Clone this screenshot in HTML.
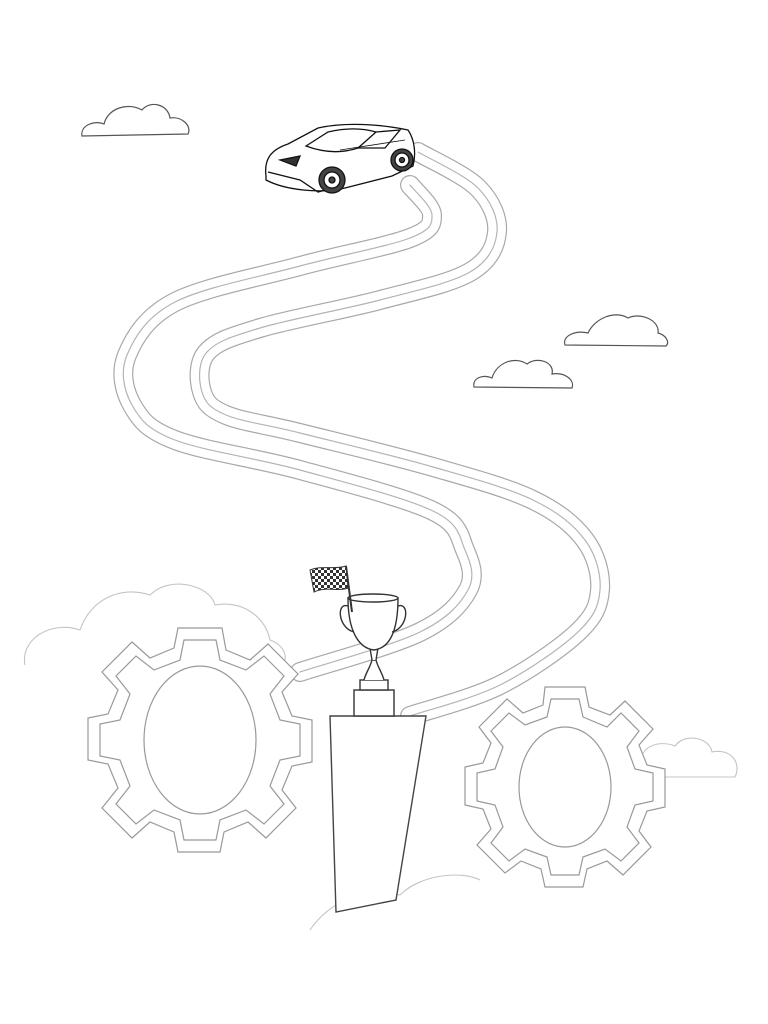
<!DOCTYPE html>
<html><head><meta charset="utf-8"><style>
html,body{margin:0;padding:0;background:#fff;}
svg{display:block;}
</style></head><body>
<svg width="768" height="1024" viewBox="0 0 768 1024" xmlns="http://www.w3.org/2000/svg">
<rect width="768" height="1024" fill="#fff"/>
<defs>
<pattern id="chk" width="6" height="6" patternUnits="userSpaceOnUse">
<rect width="6" height="6" fill="#fff"/><rect width="3" height="3" fill="#333"/><rect x="3" y="3" width="3" height="3" fill="#333"/>
</pattern>
<path id="pa" d="M410,185 C413.7,190 432,206.2 432,215 C432,223.8 432,229.5 410,238 C388,246.5 339.2,255.3 300,266 C260.8,276.7 203.8,287.2 175,302 C146.2,316.8 134.2,337.8 127,355 C119.8,372.2 124,390.8 132,405 C140,419.2 147,429.2 175,440 C203,450.8 257,458.2 300,470 C343,481.8 405.5,497.7 433,511 C460.5,524.3 459.2,536.8 465,550 C470.8,563.2 475.5,576.3 468,590 C460.5,603.7 448,618.3 420,632 C392,645.7 320,665.3 300,672"/>
<path id="pb" d="M418,152 C428,158 464.8,174.7 478,188 C491.2,201.3 498.3,218 497,232 C495.7,246 489.5,260.7 470,272 C450.5,283.3 415,290.7 380,300 C345,309.3 288.8,319.3 260,328 C231.2,336.7 216.7,341.3 207,352 C197.3,362.7 198.8,381.5 202,392 C205.2,402.5 209.7,408.2 226,415 C242.3,421.8 265.5,424.3 300,433 C334.5,441.7 394.2,455.8 433,467 C471.8,478.2 507.7,487.8 533,500 C558.3,512.2 573.8,525 585,540 C596.2,555 601.2,574.7 600,590 C598.8,605.3 594.7,616.2 578,632 C561.3,647.8 528,671 500,685 C472,699 425,710.8 410,716"/>
</defs>
<!-- faint big clouds -->
<g fill="none" stroke="#c4c4c4" stroke-width="1.1">
<path d="M25,665 C20,640 50,620 80,630 C90,600 120,585 150,595 C170,575 210,585 215,605 C240,600 265,615 270,640 C285,645 290,660 280,668 L120,668"/>
<path d="M640,765 C640,745 660,740 675,746 C685,732 710,738 712,752 C730,748 742,762 735,777 L640,777"/>
<path d="M310,930 C330,900 370,885 400,895 C420,875 460,870 480,880"/>
<path d="M190,765 C200,740 240,740 245,760 C255,770 240,778 200,778"/>
<path d="M530,790 C540,765 580,765 590,785 L530,792"/>
</g>
<!-- small clouds -->
<g fill="none" stroke="#555" stroke-width="1.2">
<path d="M82,136 C80,125 95,120 104,124 C108,108 128,102 142,110 C150,100 168,104 170,118 C182,116 192,126 188,134 Z"/>
<path d="M565,345 C562,336 575,330 588,333 C595,318 615,310 628,318 C640,312 660,320 658,333 C666,335 670,342 666,346 Z"/>
<path d="M474,387 C472,378 483,374 492,378 C497,362 515,356 527,364 C537,356 555,362 552,374 C565,372 575,380 572,388 Z"/>
</g>
<!-- road -->
<g fill="none" stroke-linecap="round" stroke-linejoin="round">
<use href="#pa" stroke="#a8a8a8" stroke-width="20"/>
<use href="#pa" stroke="#fff" stroke-width="17.6"/>
<use href="#pa" stroke="#b4b4b4" stroke-width="1.2"/>
<use href="#pb" stroke="#a8a8a8" stroke-width="20"/>
<use href="#pb" stroke="#fff" stroke-width="17.6"/>
<use href="#pb" stroke="#b4b4b4" stroke-width="1.2"/>
</g>
<!-- gears -->
<g fill="#fff" stroke="#999" stroke-width="1.2">
<g transform="translate(200,740)">
<path d="M-22,-112 L22,-112 L26,-90 L50,-80 L68,-96 L98,-66 L82,-48 L92,-24 L112,-20 L112,22 L92,26 L82,50 L96,68 L66,98 L48,82 L24,92 L20,112 L-22,112 L-26,92 L-50,82 L-68,98 L-98,68 L-82,48 L-92,24 L-112,20 L-112,-22 L-92,-26 L-82,-50 L-98,-68 L-68,-98 L-50,-82 L-26,-92 Z"/>
<path d="M-16,-100 L16,-100 L20,-80 L46,-70 L64,-84 L84,-64 L70,-46 L80,-20 L100,-16 L100,16 L80,20 L70,46 L84,64 L64,84 L46,70 L20,80 L16,100 L-16,100 L-20,80 L-46,70 L-64,84 L-84,64 L-70,46 L-80,20 L-100,16 L-100,-16 L-80,-20 L-70,-46 L-84,-64 L-64,-84 L-46,-70 L-20,-80 Z" fill="none"/>
<ellipse rx="56" ry="74"/>
</g>
<g transform="translate(565,787)">
<path d="M-20,-100 L20,-100 L24,-80 L45,-72 L60,-86 L88,-58 L74,-42 L82,-22 L100,-18 L100,20 L82,24 L74,44 L86,60 L58,88 L42,74 L22,82 L18,100 L-20,100 L-24,82 L-44,74 L-60,86 L-88,58 L-74,42 L-82,22 L-100,18 L-100,-20 L-82,-24 L-74,-44 L-86,-60 L-58,-88 L-42,-74 L-22,-82 Z"/>
<path d="M-14,-88 L14,-88 L18,-70 L42,-60 L56,-74 L74,-56 L62,-40 L70,-18 L88,-14 L88,14 L70,18 L62,40 L74,56 L56,74 L40,62 L18,70 L14,88 L-14,88 L-18,70 L-40,62 L-56,74 L-74,56 L-62,40 L-70,18 L-88,14 L-88,-14 L-70,-18 L-62,-40 L-74,-56 L-56,-74 L-40,-62 L-18,-70 Z" fill="none"/>
<ellipse rx="46" ry="60"/>
</g>
</g>
<!-- pedestal -->
<path d="M330,716 L426,716 L396,900 L336,912 Z" fill="#fff" stroke="#444" stroke-width="1.4"/>
<!-- trophy -->
<g fill="#fff" stroke="#333" stroke-width="1.4">
<rect x="354" y="690" width="40" height="26"/>
<rect x="360" y="680" width="28" height="10"/>
<path d="M364,680 C366,672 370,668 372,660 L376,660 C378,668 382,672 384,680"/>
<path d="M372,660 L370,648 L378,648 L376,660"/>
<path d="M348,598 L398,598 C398,630 390,648 374,650 C358,648 348,630 348,598 Z"/>
<path d="M348,606 C336,602 338,628 354,632" fill="none"/>
<path d="M398,606 C410,602 408,628 392,632" fill="none"/>
<ellipse cx="373" cy="598" rx="25" ry="4"/>
</g>
<!-- flag -->
<line x1="346" y1="566" x2="352" y2="612" stroke="#333" stroke-width="2"/>
<path d="M310,570 C322,565 334,570 346,566 L348,588 C338,592 326,586 314,592 Z" fill="url(#chk)" stroke="#333"/>
<!-- car -->
<g fill="#fff" stroke="#111" stroke-width="1.3">
<path d="M266,176 C264,160 270,150 288,144 L318,128 C345,122 380,124 408,130 C415,140 416,155 413,166 L392,176 L345,188 C320,194 285,190 266,180 Z"/>
<path d="M306,146 L328,132 C345,128 362,128 376,132 L358,148 C340,154 322,152 306,146 Z"/>
<path d="M376,132 L400,130 L385,148 L358,148" fill="none"/>
<path d="M268,172 L300,180 L318,192 L340,186" fill="none"/>
<path d="M280,160 L300,156 L296,166 Z" fill="#333"/>
<circle cx="332" cy="180" r="13" fill="#444"/><circle cx="332" cy="180" r="8" fill="#fff"/><circle cx="332" cy="180" r="3" fill="#444"/>
<circle cx="402" cy="160" r="11" fill="#444"/><circle cx="402" cy="160" r="7" fill="#fff"/><circle cx="402" cy="160" r="2.5" fill="#444"/>
<path d="M340,150 L405,140" fill="none" stroke-width="0.8"/>
</g>
</svg>
</body></html>
